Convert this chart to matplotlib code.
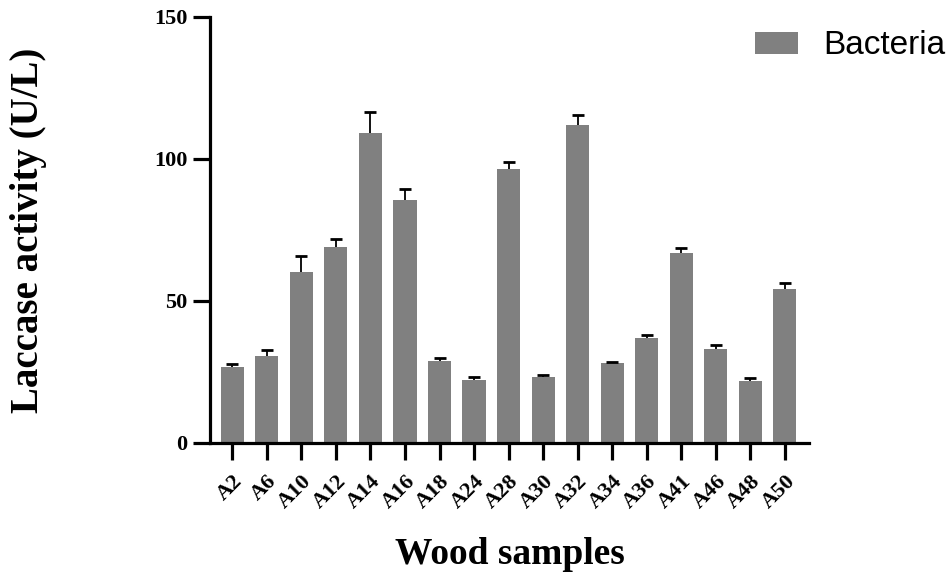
# -*- coding: utf-8 -*-
"""Laccase activity of bacterial isolates from wood samples."""

import matplotlib
matplotlib.use("Agg")
import matplotlib.pyplot as plt
import numpy as np

samples = ["A2", "A6", "A10", "A12", "A14", "A16", "A18", "A24", "A28",
           "A30", "A32", "A34", "A36", "A41", "A46", "A48", "A50"]
activity = [26.9, 30.6, 60.3, 69.1, 109.0, 85.5, 28.8, 22.1, 96.6,
            23.1, 112.1, 28.1, 36.9, 66.8, 33.0, 21.8, 54.2]
activity_sd = [0.9, 2.1, 5.5, 2.7, 7.4, 3.9, 1.2, 1.1, 2.2,
               0.8, 3.5, 0.5, 1.0, 1.8, 1.5, 1.1, 2.2]
y_ticks = [0, 50, 100, 150]

serif = "Liberation Serif"
sans = "Liberation Sans"

fig = plt.figure(figsize=(9.48, 5.79), dpi=100)
ax = fig.add_axes([210 / 948, 136 / 579, 599 / 948, 426 / 579])

x = np.arange(len(samples))
ax.bar(x, activity, width=0.67, color="#808080", label="Bacteria", zorder=2)
# upper error bars only
_, caps, _ = ax.errorbar(x, activity, yerr=[np.zeros(len(activity_sd)), activity_sd],
                         fmt="none", ecolor="black", elinewidth=1.3, capsize=4,
                         capthick=2, zorder=3)
caps[0].set_visible(False)

ax.set_xlim(-0.646, len(samples) - 0.3)
ax.set_ylim(0, 150)
ax.set_yticks(y_ticks)
ax.set_xticks(x)

for side in ["top", "right"]:
    ax.spines[side].set_visible(False)
for side in ["left", "bottom"]:
    ax.spines[side].set_linewidth(2.3)

ax.tick_params(axis="both", direction="out", length=12.2, width=2.3)
ax.tick_params(axis="y", pad=4)
ax.tick_params(axis="x", pad=8)

ax.set_yticklabels([str(v) for v in y_ticks], fontfamily=serif, fontweight="bold", fontsize=16)
ax.set_xticklabels(samples, fontfamily=serif, fontweight="bold", fontsize=16,
                   rotation=45, ha="right", va="top", rotation_mode="anchor")

ax.set_xlabel("Wood samples", fontfamily=serif, fontweight="bold", fontsize=27)
ax.xaxis.set_label_coords(0.5, -(564 - 443) / 426)
ax.xaxis.label.set_va("baseline")
ax.set_ylabel("Laccase activity (U/L)", fontfamily=serif, fontweight="bold", fontsize=28)
ax.yaxis.set_label_coords(-(210 - 47) / 599, 0.5)

ax.legend(loc="center left", bbox_to_anchor=(755 / 948, 1 - 46 / 579),
          bbox_transform=fig.transFigure, frameon=False, borderpad=0, borderaxespad=0,
          handlelength=1.29, handleheight=0.66, handletextpad=0.75,
          prop={"family": sans, "size": 24})

fig.savefig("out.png", dpi=100)
